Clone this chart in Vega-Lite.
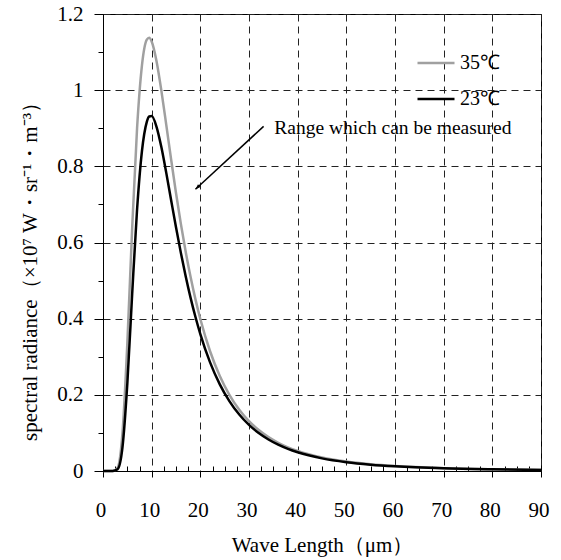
{
  "$schema": "https://vega.github.io/schema/vega-lite/v6.json",
  "width": 438,
  "height": 457,
  "autosize": {"type": "none"},
  "padding": {"left": 103, "top": 14, "right": 20, "bottom": 89},
  "background": "white",
  "config": {
    "font": "Liberation Serif, Times New Roman, serif",
    "view": {"stroke": "black", "strokeWidth": 1},
    "axis": {
      "labelFont": "Liberation Serif, Times New Roman, serif",
      "titleFont": "Liberation Serif, Times New Roman, serif",
      "labelColor": "black",
      "titleColor": "black",
      "domainColor": "black",
      "tickColor": "black",
      "titleFontWeight": "normal",
      "labelFontSize": 21,
      "titleFontSize": 21
    },
    "legend": {"labelFont": "Liberation Serif, Times New Roman, serif"},
    "text": {"font": "Liberation Serif, Times New Roman, serif"}
  },
  "datasets": {
    "curves": [
      {"wl": 0, "B": 0, "T": "35℃"}, {"wl": 1, "B": 0, "T": "35℃"}, {"wl": 2, "B": 0, "T": "35℃"},
      {"wl": 3, "B": 0.0085, "T": "35℃"}, {"wl": 4, "B": 0.0992, "T": "35℃"}, {"wl": 5, "B": 0.3355, "T": "35℃"},
      {"wl": 6, "B": 0.6395, "T": "35℃"}, {"wl": 7, "B": 0.9000, "T": "35℃"}, {"wl": 8, "B": 1.0644, "T": "35℃"},
      {"wl": 9, "B": 1.1327, "T": "35℃"}, {"wl": 9.5, "B": 1.1379, "T": "35℃"}, {"wl": 10, "B": 1.1280, "T": "35℃"},
      {"wl": 11, "B": 1.0762, "T": "35℃"}, {"wl": 12, "B": 0.9982, "T": "35℃"}, {"wl": 13, "B": 0.9090, "T": "35℃"},
      {"wl": 14, "B": 0.8179, "T": "35℃"}, {"wl": 15, "B": 0.7301, "T": "35℃"}, {"wl": 16, "B": 0.6488, "T": "35℃"},
      {"wl": 17, "B": 0.5750, "T": "35℃"}, {"wl": 18, "B": 0.5091, "T": "35℃"}, {"wl": 19, "B": 0.4506, "T": "35℃"},
      {"wl": 20, "B": 0.3992, "T": "35℃"}, {"wl": 22, "B": 0.3144, "T": "35℃"}, {"wl": 24, "B": 0.2494, "T": "35℃"},
      {"wl": 26, "B": 0.1995, "T": "35℃"}, {"wl": 28, "B": 0.1610, "T": "35℃"}, {"wl": 30, "B": 0.1310, "T": "35℃"},
      {"wl": 32, "B": 0.1075, "T": "35℃"}, {"wl": 34, "B": 0.0889, "T": "35℃"}, {"wl": 36, "B": 0.0741, "T": "35℃"},
      {"wl": 38, "B": 0.0622, "T": "35℃"}, {"wl": 40, "B": 0.0526, "T": "35℃"}, {"wl": 45, "B": 0.0354, "T": "35℃"},
      {"wl": 50, "B": 0.0247, "T": "35℃"}, {"wl": 55, "B": 0.0177, "T": "35℃"}, {"wl": 60, "B": 0.0130, "T": "35℃"},
      {"wl": 70, "B": 0.0075, "T": "35℃"}, {"wl": 80, "B": 0.0046, "T": "35℃"}, {"wl": 90, "B": 0.0030, "T": "35℃"},
      {"wl": 0, "B": 0, "T": "23℃"}, {"wl": 1, "B": 0, "T": "23℃"}, {"wl": 2, "B": 0, "T": "23℃"},
      {"wl": 3, "B": 0.0045, "T": "23℃"}, {"wl": 4, "B": 0.0618, "T": "23℃"}, {"wl": 5, "B": 0.2297, "T": "23℃"},
      {"wl": 6, "B": 0.4664, "T": "23℃"}, {"wl": 7, "B": 0.6866, "T": "23℃"}, {"wl": 8, "B": 0.8396, "T": "23℃"},
      {"wl": 9, "B": 0.9169, "T": "23℃"}, {"wl": 9.5, "B": 0.9310, "T": "23℃"}, {"wl": 10, "B": 0.9320, "T": "23℃"},
      {"wl": 11, "B": 0.9039, "T": "23℃"}, {"wl": 12, "B": 0.8499, "T": "23℃"}, {"wl": 13, "B": 0.7828, "T": "23℃"},
      {"wl": 14, "B": 0.7111, "T": "23℃"}, {"wl": 15, "B": 0.6400, "T": "23℃"}, {"wl": 16, "B": 0.5728, "T": "23℃"},
      {"wl": 17, "B": 0.5108, "T": "23℃"}, {"wl": 18, "B": 0.4546, "T": "23℃"}, {"wl": 19, "B": 0.4043, "T": "23℃"},
      {"wl": 20, "B": 0.3597, "T": "23℃"}, {"wl": 22, "B": 0.2853, "T": "23℃"}, {"wl": 24, "B": 0.2276, "T": "23℃"},
      {"wl": 26, "B": 0.1830, "T": "23℃"}, {"wl": 28, "B": 0.1482, "T": "23℃"}, {"wl": 30, "B": 0.1210, "T": "23℃"},
      {"wl": 32, "B": 0.0996, "T": "23℃"}, {"wl": 34, "B": 0.0826, "T": "23℃"}, {"wl": 36, "B": 0.0690, "T": "23℃"},
      {"wl": 38, "B": 0.0580, "T": "23℃"}, {"wl": 40, "B": 0.0491, "T": "23℃"}, {"wl": 45, "B": 0.0332, "T": "23℃"},
      {"wl": 50, "B": 0.0232, "T": "23℃"}, {"wl": 55, "B": 0.0167, "T": "23℃"}, {"wl": 60, "B": 0.0123, "T": "23℃"},
      {"wl": 70, "B": 0.0071, "T": "23℃"}, {"wl": 80, "B": 0.0044, "T": "23℃"}, {"wl": 90, "B": 0.0028, "T": "23℃"}
    ],
    "note": [
      {"label": "Range which can be measured", "tx": 35.2, "ty": 0.9, "ax": 33.0, "ay": 0.905, "hx": 19.0, "hy": 0.74}
    ]
  },
  "layer": [
    {
      "data": {"name": "curves"},
      "mark": {"type": "line", "strokeWidth": 2.5, "interpolate": "monotone"},
      "encoding": {
        "x": {
          "field": "wl", "type": "quantitative",
          "scale": {"domain": [0, 90], "nice": false, "zero": false},
          "axis": {
            "orient": "bottom",
            "values": [0, 10, 20, 30, 40, 50, 60, 70, 80, 90],
            "title": "Wave Length（μm）",
            "tickSize": 6,
            "labelPadding": 22,
            "labelOffset": -2.5,
            "titlePadding": 14,
            "grid": true,
            "gridColor": "#222222",
            "gridDash": [7, 5],
            "gridOpacity": 1,
            "gridWidth": 1,
            "labelFlush": false
          }
        },
        "y": {
          "field": "B", "type": "quantitative",
          "scale": {"domain": [0, 1.2], "nice": false},
          "axis": {
            "orient": "left",
            "values": [0, 0.2, 0.4, 0.6, 0.8, 1.0, 1.2],
            "format": "~g",
            "title": "spectral radiance（×10⁷ W・sr⁻¹・m⁻³）",
            "titleY": 252,
            "tickSize": 9,
            "labelPadding": 11,
            "titlePadding": 16,
            "grid": true,
            "gridColor": "#222222",
            "gridDash": [7, 5],
            "gridWidth": 1,
            "labelFlush": false
          }
        },
        "color": {
          "field": "T", "type": "nominal",
          "scale": {"domain": ["35℃", "23℃"], "range": ["#a0a0a0", "#000000"]},
          "legend": {
            "title": null,
            "orient": "none",
            "legendX": 313,
            "legendY": 29,
            "symbolType": "stroke",
            "symbolSize": 1369,
            "symbolStrokeWidth": 2.5,
            "labelFontSize": 20,
            "labelColor": "black",
            "labelOffset": 4,
            "rowPadding": 6,
            "padding": 0
          }
        }
      }
    },
    {
      "data": {"name": "note"},
      "mark": {"type": "text", "align": "left", "baseline": "middle", "fontSize": 19.5, "color": "black"},
      "encoding": {
        "x": {
          "field": "tx", "type": "quantitative",
          "scale": {"domain": [0, 90], "nice": false, "zero": false},
          "axis": {
            "orient": "bottom",
            "values": [2.5, 5, 7.5, 12.5, 15, 17.5, 22.5, 25, 27.5, 32.5, 35, 37.5, 42.5, 45, 47.5, 52.5, 55, 57.5, 62.5, 65, 67.5, 72.5, 75, 77.5, 82.5, 85, 87.5],
            "tickSize": -5,
            "labels": false,
            "domain": false,
            "grid": false,
            "title": null
          }
        },
        "y": {
          "field": "ty", "type": "quantitative",
          "axis": {
            "orient": "left",
            "values": [0.1, 0.3, 0.5, 0.7, 0.9, 1.1],
            "tickSize": 5,
            "labels": false,
            "domain": false,
            "grid": false,
            "title": null
          }
        },
        "text": {"field": "label"}
      }
    },
    {
      "data": {"name": "note"},
      "mark": {"type": "rule", "color": "black", "strokeWidth": 1.5},
      "encoding": {
        "x": {"field": "ax", "type": "quantitative", "axis": null},
        "y": {"field": "ay", "type": "quantitative", "axis": null},
        "x2": {"field": "hx"},
        "y2": {"field": "hy"}
      }
    },
    {
      "data": {"name": "note"},
      "mark": {"type": "point", "shape": "M0,0L-0.4,1.1L0.4,1.1Z", "filled": true, "color": "black", "size": 90, "angle": 227, "opacity": 1},
      "encoding": {
        "x": {"field": "hx", "type": "quantitative", "axis": null},
        "y": {"field": "hy", "type": "quantitative", "axis": null}
      }
    }
  ],
  "resolve": {"axis": {"x": "independent", "y": "independent"}}
}
